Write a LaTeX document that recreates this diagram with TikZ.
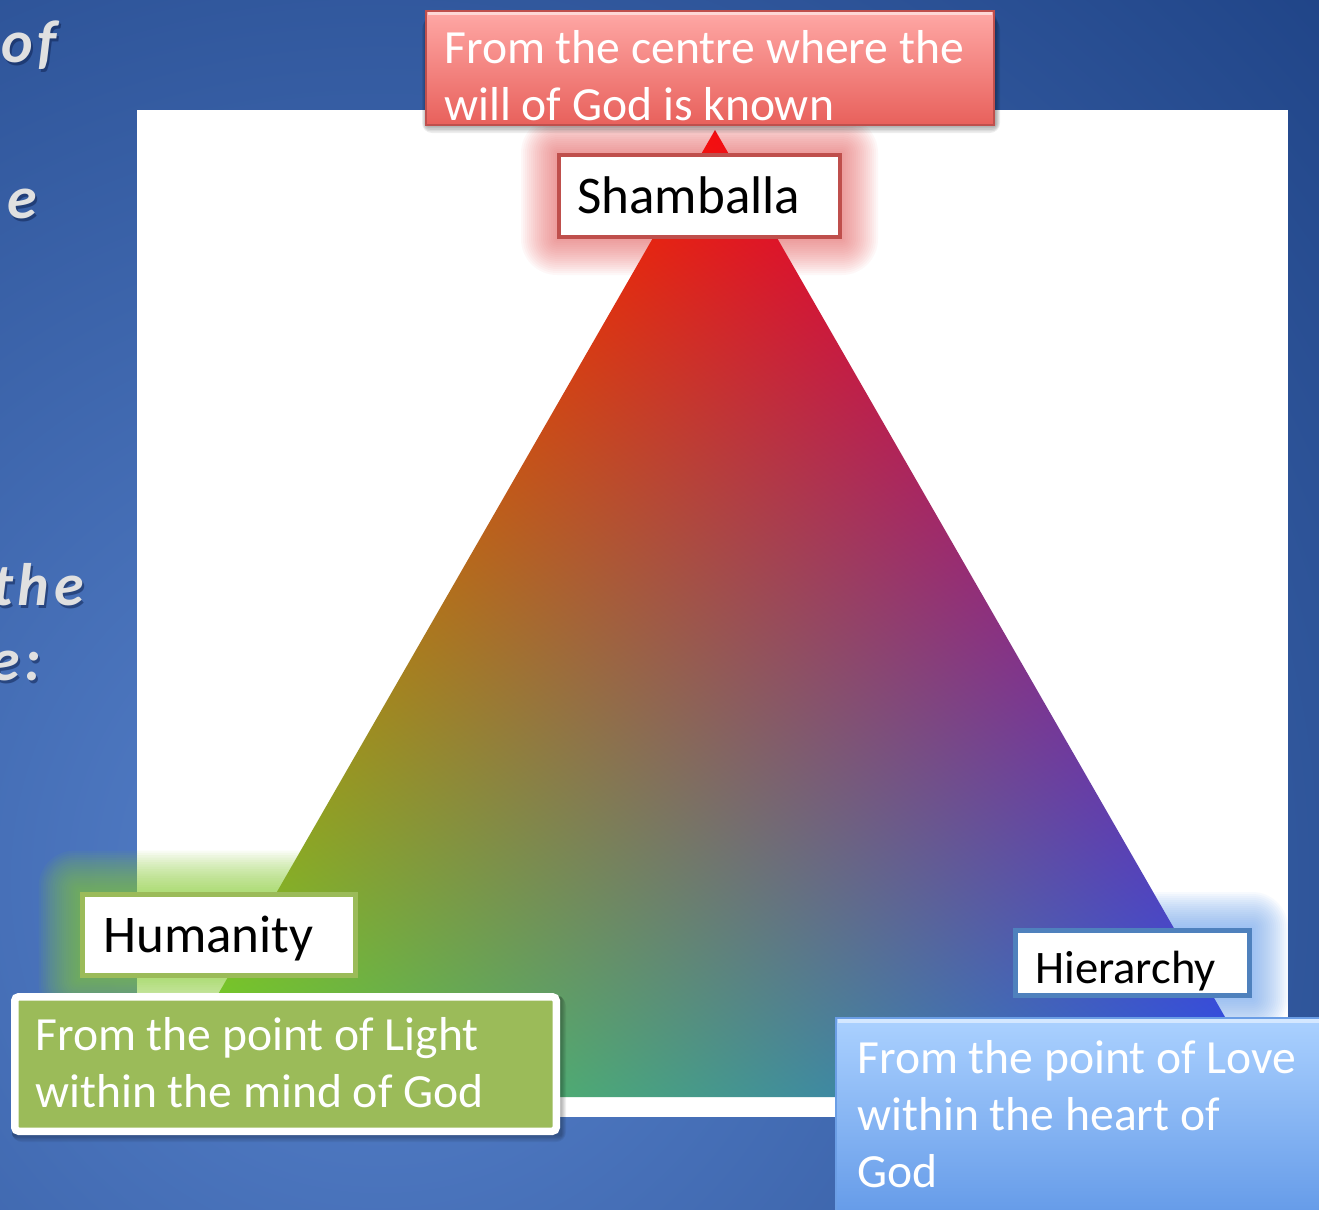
\documentclass[tikz,border=0pt]{standalone}
\usepackage{fontspec}
\setmainfont{Carlito}
\definecolor{bgin}{rgb}{0.34,0.51,0.80}
\definecolor{bgout}{rgb}{0.10,0.24,0.50}
\definecolor{redtop}{rgb}{1.0,0.66,0.65}
\definecolor{redbot}{rgb}{0.91,0.38,0.36}
\definecolor{redline}{rgb}{0.75,0.31,0.30}
\definecolor{olive}{rgb}{0.608,0.733,0.349}
\definecolor{steel}{rgb}{0.31,0.506,0.74}
\definecolor{bluetop}{rgb}{0.67,0.82,1.0}
\definecolor{bluebot}{rgb}{0.36,0.58,0.90}
\definecolor{blueline}{rgb}{0.42,0.62,0.90}
\definecolor{glowred}{rgb}{0.92,0.36,0.36}
\definecolor{glowgreen}{rgb}{0.55,0.82,0.22}
\definecolor{glowblue}{rgb}{0.45,0.66,0.95}
\definecolor{slidetext}{rgb}{0.88,0.88,0.88}
\definecolor{slideshadow}{rgb}{0.05,0.12,0.30}
\pgfdeclarefunctionalshading{tricolor}{\pgfpointorigin}{\pgfpoint{100bp}{100bp}}{}{
25 sub 50 div exch 25 sub 50 div exch
dup 2 div 3 -1 roll dup 2 index sub 3 1 roll add 1 exch sub
2 index 0.96 mul 2 index 0.14 mul add 1 index 0.40 mul add
3 index 0.05 mul 3 index 0.33 mul add 2 index 0.86 mul add
4 index 0.06 mul 4 index 0.93 mul add 3 index 0.18 mul add
6 3 roll pop pop pop
}
\tikzset{
  lbl/.style={font=\fontsize{26.5}{32}\selectfont, text=black, inner sep=0pt, anchor=base west},
  wtxt/.style={font=\fontsize{23.8}{29}\selectfont, text=white, inner sep=0pt, anchor=base west},
  labelbox/.style={fill=white, inner sep=0pt},
  slidetxt/.style={font=\fontsize{30}{36}\selectfont\bfseries\itshape\addfontfeatures{LetterSpace=8}, inner sep=0pt, anchor=base east},
}
\begin{document}
\begin{tikzpicture}[x=0.5pt,y=-0.5pt]
\useasboundingbox (0,0) rectangle (1319,1210);
\begin{scope}
\clip (0,0) rectangle (1319,1210);
% background
\shade[inner color=bgin, outer color=bgout] (380,880) circle (1450);
% slide text cut at the left edge
\node[name=s1s, slidetxt, text=slideshadow, opacity=0.5] at (59,65) {of};
\node[name=s2s, slidetxt, text=slideshadow, opacity=0.5] at (39,221) {e};
\node[name=s3s, slidetxt, text=slideshadow, opacity=0.5] at (86,608) {the};
\node[name=s4s, slidetxt, text=slideshadow, opacity=0.5] at (44,683) {e:};
\node[name=s1, slidetxt, text=slidetext] at (57,62) {of};
\node[name=s2, slidetxt, text=slidetext] at (37,218) {e};
\node[name=s3, slidetxt, text=slidetext] at (84,605) {the};
\node[name=s4, slidetxt, text=slidetext] at (42,680) {e:};
% white panel
\fill[white] (137,110) rectangle (1288,1117);
% glows
\foreach \r in {1,...,18} {
  \fill[glowred, opacity=0.045, rounded corners=\r pt] (557-2*\r,153-2*\r) rectangle (842+2*\r,239+2*\r);
  \fill[glowgreen, opacity=0.055, rounded corners=\r pt] (80-2.3*\r,892-2.3*\r) rectangle (358+2.3*\r,978+2.3*\r);
  \fill[glowblue, opacity=0.055, rounded corners=\r pt] (1013-2*\r,928-2*\r) rectangle (1252+2*\r,998+2*\r);
}
% triangle
\shade[shading=tricolor] (715,130) -- (1271,1097) -- (159,1097) -- cycle;
% top red box
\foreach \r in {1,...,5} {
  \fill[black, opacity=0.07, rounded corners=\r pt] (427-\r,14+\r) rectangle (995+\r,125+1.6*\r);
}
\node[name=willbox, draw=redline, line width=1pt, top color=redtop, bottom color=redbot,
      minimum width=284pt, minimum height=57pt, inner sep=0pt] at (710,67.5) {};
\draw[white, opacity=0.55, line width=1.5pt] (428,13) -- (992,13);
\node[name=will1, wtxt] at (444,63) {From the centre where the};
\node[name=will2, wtxt] at (444,120) {will of God is known};
% Shamballa
\node[name=shambox, labelbox, draw=redline, line width=2pt, minimum width=140.5pt, minimum height=41pt] at (699.5,196) {};
\node[name=shamtxt, lbl] at (577,213) {Shamballa};
% Humanity
\node[name=humbox, labelbox, draw=olive, line width=2.5pt, minimum width=136.5pt, minimum height=40.5pt] at (219,935) {};
\node[name=humtxt, lbl] at (103,952) {Humanity};
% Hierarchy
\node[name=hierbox, labelbox, draw=steel, line width=2.5pt, minimum width=117pt, minimum height=32.5pt] at (1132.5,963) {};
\node[name=hiertxt, lbl, font=\fontsize{23.3}{28}\selectfont] at (1035,983) {Hierarchy};
% green box
\foreach \r in {1,...,5} {
  \fill[black, opacity=0.06, rounded corners=\r pt] (12,996) rectangle (561+\r,1135+1.4*\r);
}
\node[name=lightbox, fill=olive, draw=white, line width=3.75pt, rounded corners=2pt,
      minimum width=270.75pt, minimum height=67.25pt, inner sep=0pt] at (285.5,1064) {};
\node[name=light1, wtxt] at (35,1050) {From the point of Light};
\node[name=light2, wtxt] at (35,1107) {within the mind of God};
% blue box
\node[name=lovebox, draw=blueline, line width=1pt, top color=bluetop, bottom color=bluebot,
      minimum width=247pt, minimum height=111pt, inner sep=0pt] at (1083,1129) {};
\draw[white, opacity=0.5, line width=2pt] (838,1021) -- (1319,1021);
\node[name=love1, wtxt] at (857,1073) {From the point of Love};
\node[name=love2, wtxt] at (857,1130) {within the heart of};
\node[name=love3, wtxt] at (857,1187) {God};
\end{scope}
\end{tikzpicture}
\end{document}
